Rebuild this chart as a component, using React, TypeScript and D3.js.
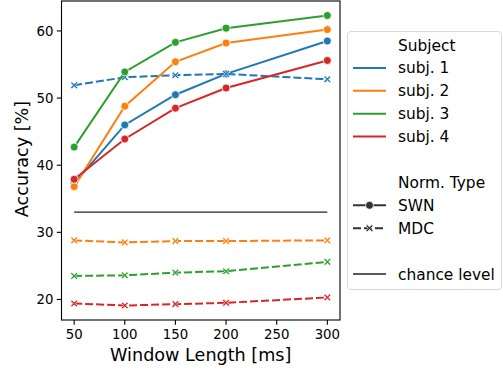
import React from 'react';
import * as d3 from 'd3';

const windows = [50, 100, 150, 200, 300];
const subjects = ['subj. 1', 'subj. 2', 'subj. 3', 'subj. 4'];
const colors = ['#1f77b4', '#ff7f0e', '#2ca02c', '#d62728'];

// accuracy per subject, SWN normalisation
const swn = [
  [37.3, 46.0, 50.5, 53.6, 58.5],
  [36.8, 48.8, 55.4, 58.2, 60.2],
  [42.7, 53.9, 58.3, 60.4, 62.3],
  [37.9, 43.9, 48.5, 51.5, 55.6],
];
// accuracy per subject, MDC normalisation
const mdc = [
  [51.9, 53.1, 53.4, 53.6, 52.8],
  [28.8, 28.5, 28.7, 28.7, 28.8],
  [23.5, 23.6, 24.0, 24.2, 25.6],
  [19.4, 19.1, 19.3, 19.5, 20.3],
];
const chance = 33.0;
const xTicks = [50, 100, 150, 200, 250, 300];
const yTicks = [20, 30, 40, 50, 60];

const W = 503;
const H = 371;
const left = 61.5;
const right = 340;
const top = 1;
const bottom = 320;
const font = 'DejaVu Sans';

// filled "X" marker, like matplotlib's 'X'
const xMarker = (cx: number, cy: number, s: number) => {
  const a = s, b = s * 0.36;
  const pts = [
    [-a + b, -a], [0, -b], [a - b, -a], [a, -a + b], [b, 0], [a, a - b],
    [a - b, a], [0, b], [-a + b, a], [-a, a - b], [-b, 0], [-a, -a + b],
  ];
  return 'M' + pts.map(p => `${cx + p[0]},${cy + p[1]}`).join('L') + 'Z';
};

const App: React.FC = () => {
  const x = d3.scaleLinear().domain([37.5, 312.5]).range([left, right]);
  const y = d3.scaleLinear().domain([16.94, 64.46]).range([bottom, top]);
  const line = d3.line<number>().x((_, i) => x(windows[i])).y(d => y(d));

  const legX = 347.5;
  const legRow = (i: number) => 45 + i * 22.9;
  const hx0 = 353, hx1 = 386, tx = 398;

  return (
    <svg width={W} height={H} style={{ position: 'absolute', left: 0, top: 0 }} fontFamily={font}>
      <rect width={W} height={H} fill="#fff" />
      <line x1={x(50)} x2={x(300)} y1={y(chance)} y2={y(chance)} stroke="#222" strokeWidth={1.3} />
      {subjects.map((s, i) => (
        <g key={s}>
          <path d={line(swn[i]) || ''} fill="none" stroke={colors[i]} strokeWidth={2} />
          {swn[i].map((v, j) => (
            <circle key={j} cx={x(windows[j])} cy={y(v)} r={4} fill={colors[i]} stroke="#fff" strokeWidth={0.8} />
          ))}
          <path d={line(mdc[i]) || ''} fill="none" stroke={colors[i]} strokeWidth={2} strokeDasharray="8,3" />
          {mdc[i].map((v, j) => (
            <path key={j} d={xMarker(x(windows[j]), y(v), 3.6)} fill={colors[i]} stroke="#fff" strokeWidth={0.7} />
          ))}
        </g>
      ))}
      <rect x={left} y={top} width={right - left} height={bottom - top} fill="none" stroke="#000" strokeWidth={1.1} />
      {xTicks.map(t => (
        <g key={t}>
          <line x1={x(t)} x2={x(t)} y1={bottom} y2={bottom + 4.7} stroke="#000" strokeWidth={1.1} />
          <text x={x(t)} y={bottom + 19} textAnchor="middle" fontSize={13.3} fill="#000">{t}</text>
        </g>
      ))}
      {yTicks.map(t => (
        <g key={t}>
          <line x1={left - 4.7} x2={left} y1={y(t)} y2={y(t)} stroke="#000" strokeWidth={1.1} />
          <text x={left - 8} y={y(t)} dy="0.36em" textAnchor="end" fontSize={13.3} fill="#000">{t}</text>
        </g>
      ))}
      <text x={(left + right) / 2} y={361} textAnchor="middle" fontSize={17.6} fill="#000">Window Length [ms]</text>
      <text transform={`translate(28,159) rotate(-90)`} textAnchor="middle" fontSize={17.6} fill="#000">Accuracy [%]</text>

      <rect x={legX} y={31.5} width={154} height={258} rx={3.5} fill="#fff" fillOpacity={0.8} stroke="#d8d8d8" strokeWidth={1} />
      <text x={tx} y={legRow(0)} dy="0.36em" fontSize={15.4}>Subject</text>
      {subjects.map((s, i) => (
        <g key={s}>
          <line x1={hx0} x2={hx1} y1={legRow(i + 1)} y2={legRow(i + 1)} stroke={colors[i]} strokeWidth={2} />
          <text x={tx} y={legRow(i + 1)} dy="0.36em" fontSize={15.4}>{s}</text>
        </g>
      ))}
      <text x={tx} y={legRow(6)} dy="0.36em" fontSize={15.4}>Norm. Type</text>
      <line x1={hx0} x2={hx1} y1={legRow(7)} y2={legRow(7)} stroke="#333" strokeWidth={2} />
      <circle cx={(hx0 + hx1) / 2} cy={legRow(7)} r={4} fill="#333" stroke="#fff" strokeWidth={0.8} />
      <text x={tx} y={legRow(7)} dy="0.36em" fontSize={15.4}>SWN</text>
      <line x1={hx0} x2={hx1} y1={legRow(8)} y2={legRow(8)} stroke="#333" strokeWidth={2} strokeDasharray="8,3" />
      <path d={xMarker((hx0 + hx1) / 2, legRow(8), 3.6)} fill="#333" stroke="#fff" strokeWidth={0.7} />
      <text x={tx} y={legRow(8)} dy="0.36em" fontSize={15.4}>MDC</text>
      <line x1={hx0} x2={hx1} y1={legRow(10)} y2={legRow(10)} stroke="#222" strokeWidth={1.3} />
      <text x={tx} y={legRow(10)} dy="0.36em" fontSize={15.4}>chance level</text>
    </svg>
  );
};

export default App;
